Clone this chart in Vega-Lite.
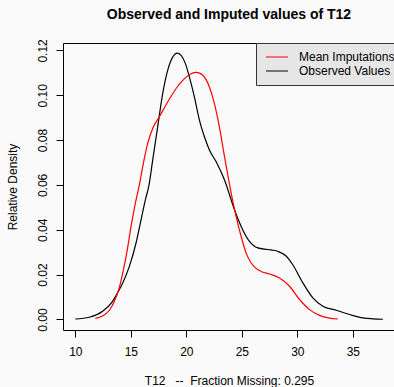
{
  "$schema": "https://vega.github.io/schema/vega-lite/v6.json",
  "width": 332,
  "height": 287,
  "autosize": {"type": "none"},
  "padding": {"left": 63, "top": 43, "right": 0, "bottom": 57},
  "background": "#fafafa",
  "title": {
    "text": "Observed and Imputed values of T12",
    "fontSize": 14,
    "fontWeight": "bold",
    "font": "Liberation Sans",
    "anchor": "middle",
    "frame": "group",
    "baseline": "middle",
    "offset": 10,
    "color": "black"
  },
  "config": {
    "font": "Liberation Sans",
    "view": {"stroke": "black", "strokeWidth": 1},
    "axis": {
      "grid": false,
      "domain": false,
      "tickColor": "black",
      "tickSize": 7,
      "tickWidth": 1,
      "labelFont": "Liberation Sans",
      "labelFontSize": 12,
      "labelColor": "black",
      "titleFont": "Liberation Sans",
      "titleFontSize": 12,
      "titleFontWeight": "normal",
      "titleColor": "black"
    }
  },
  "data": {
    "values": [
      {"x": 10.0, "y": 0.0002, "series": "Observed Values"},
      {"x": 11.26, "y": 0.001, "series": "Observed Values"},
      {"x": 12.46, "y": 0.0037, "series": "Observed Values"},
      {"x": 13.36, "y": 0.0081, "series": "Observed Values"},
      {"x": 13.81, "y": 0.0119, "series": "Observed Values"},
      {"x": 14.27, "y": 0.0163, "series": "Observed Values"},
      {"x": 14.87, "y": 0.0237, "series": "Observed Values"},
      {"x": 15.47, "y": 0.0341, "series": "Observed Values"},
      {"x": 15.92, "y": 0.0444, "series": "Observed Values"},
      {"x": 16.31, "y": 0.0533, "series": "Observed Values"},
      {"x": 16.64, "y": 0.06, "series": "Observed Values"},
      {"x": 16.97, "y": 0.0711, "series": "Observed Values"},
      {"x": 17.42, "y": 0.0859, "series": "Observed Values"},
      {"x": 17.87, "y": 0.1007, "series": "Observed Values"},
      {"x": 18.32, "y": 0.1111, "series": "Observed Values"},
      {"x": 18.77, "y": 0.117, "series": "Observed Values"},
      {"x": 19.17, "y": 0.1188, "series": "Observed Values"},
      {"x": 19.53, "y": 0.1178, "series": "Observed Values"},
      {"x": 19.92, "y": 0.1141, "series": "Observed Values"},
      {"x": 20.28, "y": 0.1081, "series": "Observed Values"},
      {"x": 20.73, "y": 0.0992, "series": "Observed Values"},
      {"x": 21.18, "y": 0.0889, "series": "Observed Values"},
      {"x": 21.63, "y": 0.0815, "series": "Observed Values"},
      {"x": 22.08, "y": 0.0756, "series": "Observed Values"},
      {"x": 22.69, "y": 0.0703, "series": "Observed Values"},
      {"x": 23.44, "y": 0.0622, "series": "Observed Values"},
      {"x": 24.34, "y": 0.0489, "series": "Observed Values"},
      {"x": 24.94, "y": 0.0415, "series": "Observed Values"},
      {"x": 25.69, "y": 0.0348, "series": "Observed Values"},
      {"x": 26.44, "y": 0.0319, "series": "Observed Values"},
      {"x": 27.34, "y": 0.0312, "series": "Observed Values"},
      {"x": 28.24, "y": 0.0304, "series": "Observed Values"},
      {"x": 28.99, "y": 0.0283, "series": "Observed Values"},
      {"x": 29.59, "y": 0.0244, "series": "Observed Values"},
      {"x": 30.5, "y": 0.0163, "series": "Observed Values"},
      {"x": 31.4, "y": 0.0096, "series": "Observed Values"},
      {"x": 32.3, "y": 0.0059, "series": "Observed Values"},
      {"x": 33.51, "y": 0.0041, "series": "Observed Values"},
      {"x": 34.71, "y": 0.0022, "series": "Observed Values"},
      {"x": 35.91, "y": 0.0007, "series": "Observed Values"},
      {"x": 36.81, "y": 0.0003, "series": "Observed Values"},
      {"x": 37.71, "y": 0.0001, "series": "Observed Values"},
      {"x": 11.8, "y": 0.0005, "series": "Mean Imputations"},
      {"x": 12.46, "y": 0.0015, "series": "Mean Imputations"},
      {"x": 13.07, "y": 0.0041, "series": "Mean Imputations"},
      {"x": 13.52, "y": 0.0081, "series": "Mean Imputations"},
      {"x": 13.91, "y": 0.0133, "series": "Mean Imputations"},
      {"x": 14.27, "y": 0.0207, "series": "Mean Imputations"},
      {"x": 14.63, "y": 0.0296, "series": "Mean Imputations"},
      {"x": 15.02, "y": 0.0415, "series": "Mean Imputations"},
      {"x": 15.41, "y": 0.0519, "series": "Mean Imputations"},
      {"x": 15.77, "y": 0.06, "series": "Mean Imputations"},
      {"x": 16.07, "y": 0.0681, "series": "Mean Imputations"},
      {"x": 16.52, "y": 0.0785, "series": "Mean Imputations"},
      {"x": 16.97, "y": 0.0852, "series": "Mean Imputations"},
      {"x": 17.57, "y": 0.0904, "series": "Mean Imputations"},
      {"x": 18.32, "y": 0.097, "series": "Mean Imputations"},
      {"x": 19.08, "y": 0.103, "series": "Mean Imputations"},
      {"x": 19.83, "y": 0.1074, "series": "Mean Imputations"},
      {"x": 20.43, "y": 0.1096, "series": "Mean Imputations"},
      {"x": 20.94, "y": 0.1102, "series": "Mean Imputations"},
      {"x": 21.48, "y": 0.1089, "series": "Mean Imputations"},
      {"x": 22.08, "y": 0.1037, "series": "Mean Imputations"},
      {"x": 22.53, "y": 0.0963, "series": "Mean Imputations"},
      {"x": 22.98, "y": 0.0859, "series": "Mean Imputations"},
      {"x": 23.44, "y": 0.0726, "series": "Mean Imputations"},
      {"x": 23.82, "y": 0.0622, "series": "Mean Imputations"},
      {"x": 24.04, "y": 0.0563, "series": "Mean Imputations"},
      {"x": 24.49, "y": 0.0459, "series": "Mean Imputations"},
      {"x": 24.94, "y": 0.037, "series": "Mean Imputations"},
      {"x": 25.39, "y": 0.0296, "series": "Mean Imputations"},
      {"x": 25.84, "y": 0.0252, "series": "Mean Imputations"},
      {"x": 26.29, "y": 0.0228, "series": "Mean Imputations"},
      {"x": 26.8, "y": 0.0213, "series": "Mean Imputations"},
      {"x": 27.49, "y": 0.0203, "series": "Mean Imputations"},
      {"x": 28.4, "y": 0.0185, "series": "Mean Imputations"},
      {"x": 29.3, "y": 0.0148, "series": "Mean Imputations"},
      {"x": 30.2, "y": 0.0089, "series": "Mean Imputations"},
      {"x": 31.1, "y": 0.0044, "series": "Mean Imputations"},
      {"x": 32.0, "y": 0.0018, "series": "Mean Imputations"},
      {"x": 32.9, "y": 0.0006, "series": "Mean Imputations"},
      {"x": 33.65, "y": 0.0002, "series": "Mean Imputations"}
    ]
  },
  "mark": {"type": "line", "interpolate": "monotone", "strokeWidth": 1.2},
  "encoding": {
    "x": {
      "field": "x",
      "type": "quantitative",
      "scale": {"domain": [8.89, 38.8], "nice": false, "zero": false},
      "axis": {
        "values": [10, 15, 20, 25, 30, 35],
        "format": "d",
        "labelPadding": 9,
        "title": "T12\u00a0\u00a0\u00a0--\u00a0\u00a0Fraction Missing: 0.295",
        "titleBaseline": "middle",
        "titleY": 50
      }
    },
    "y": {
      "field": "y",
      "type": "quantitative",
      "scale": {"domain": [-0.0047, 0.1233], "nice": false, "zero": false},
      "axis": {
        "values": [0, 0.02, 0.04, 0.06, 0.08, 0.1, 0.12],
        "format": ".2f",
        "labelAngle": -90,
        "labelAlign": "center",
        "labelBaseline": "bottom",
        "labelPadding": 7,
        "title": "Relative Density",
        "titleBaseline": "middle",
        "titleX": -51
      }
    },
    "color": {
      "field": "series",
      "type": "nominal",
      "scale": {"domain": ["Mean Imputations", "Observed Values"], "range": ["red", "black"]},
      "legend": {
        "title": null,
        "orient": "none",
        "legendX": 193,
        "legendY": 0,
        "fillColor": "#e6e6e6",
        "strokeColor": "#333333",
        "padding": 7,
        "symbolOffset": 2,
        "symbolType": "stroke",
        "symbolSize": 484,
        "symbolStrokeWidth": 1.2,
        "labelFont": "Liberation Sans",
        "labelFontSize": 12,
        "labelColor": "black",
        "labelOffset": 10,
        "clipHeight": 14,
        "rowPadding": 0
      }
    }
  }
}
